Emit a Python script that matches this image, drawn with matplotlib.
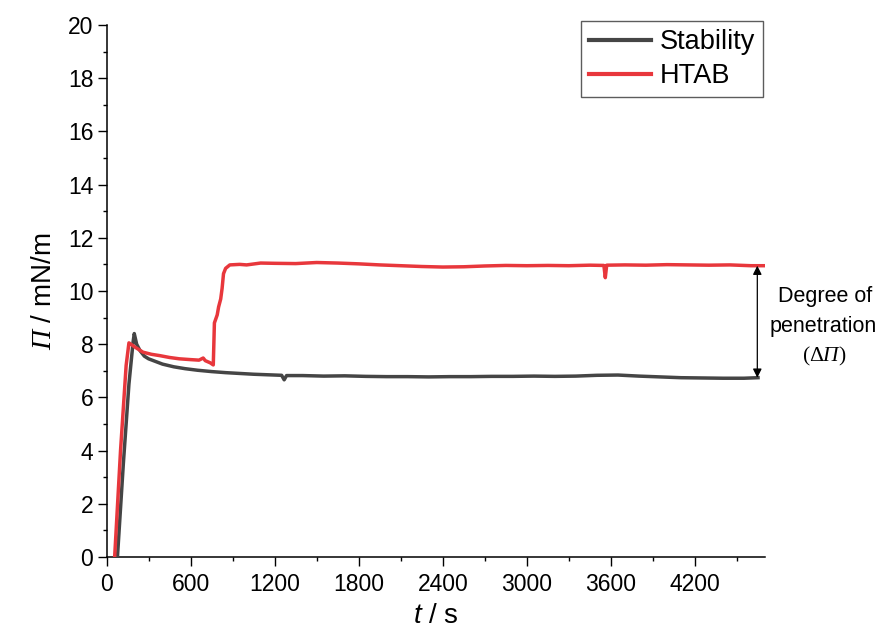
import matplotlib
matplotlib.use("Agg")
import matplotlib.pyplot as plt
from matplotlib.ticker import MultipleLocator

plt.rcParams['font.family'] = ['Liberation Sans', 'DejaVu Sans']
plt.rcParams['mathtext.fontset'] = 'custom'
plt.rcParams['mathtext.rm'] = 'Liberation Sans'
plt.rcParams['mathtext.it'] = 'Liberation Sans:italic'
plt.rcParams['mathtext.bf'] = 'Liberation Serif:italic'
plt.rcParams['mathtext.sf'] = 'Liberation Serif'

# Surface pressure vs time
stab_t = [78, 120, 160, 190, 198, 215, 240, 270, 300, 350, 400, 480, 560, 650,
          750, 850, 950, 1050, 1150, 1250, 1268, 1285, 1400, 1550, 1700, 1850,
          2000, 2150, 2300, 2450, 2600, 2750, 2900, 3050, 3200, 3350, 3500,
          3650, 3800, 3950, 4100, 4250, 4400, 4550, 4650]
stab_pi = [0.0, 3.5, 6.5, 8.1, 8.4, 8.0, 7.75, 7.55, 7.45, 7.35, 7.25, 7.15,
           7.08, 7.02, 6.97, 6.93, 6.9, 6.87, 6.85, 6.83, 6.66, 6.82, 6.82,
           6.8, 6.81, 6.79, 6.78, 6.78, 6.77, 6.78, 6.78, 6.79, 6.79, 6.8,
           6.79, 6.8, 6.83, 6.84, 6.8, 6.77, 6.74, 6.73, 6.72, 6.72, 6.74]

htab_t = [58, 100, 140, 160, 200, 260, 320, 380, 450, 520, 600, 660, 690, 705,
          740, 762, 766, 770, 790, 800, 815, 825, 835, 850, 880, 950, 1000,
          1100, 1200, 1350, 1500, 1650, 1800, 1950, 2100, 2250, 2400, 2550,
          2700, 2850, 3000, 3150, 3300, 3450, 3550, 3560, 3570, 3700, 3850,
          4000, 4150, 4300, 4450, 4600, 4700]
htab_pi = [0.0, 4.0, 7.2, 8.05, 7.9, 7.7, 7.62, 7.57, 7.5, 7.45, 7.42, 7.4,
           7.48, 7.38, 7.3, 7.22, 8.0, 8.8, 9.1, 9.4, 9.7, 10.1, 10.65, 10.85,
           10.98, 11.0, 10.98, 11.05, 11.04, 11.03, 11.07, 11.05, 11.02, 10.98,
           10.95, 10.92, 10.9, 10.91, 10.94, 10.96, 10.95, 10.96, 10.95, 10.97,
           10.96, 10.5, 10.97, 10.98, 10.97, 10.99, 10.98, 10.97, 10.98, 10.95,
           10.95]

x_ticks = [0, 600, 1200, 1800, 2400, 3000, 3600, 4200]
y_ticks = [0, 2, 4, 6, 8, 10, 12, 14, 16, 18, 20]

gray = '#454545'
red = '#e8373c'

fig = plt.figure(figsize=(8.84, 6.37), dpi=100)
ax = fig.add_axes([0.1205, 0.1256, 0.7449, 0.8352])

ax.plot(stab_t, stab_pi, color=gray, lw=2.5, label='Stability', zorder=3)
ax.plot(htab_t, htab_pi, color=red, lw=2.5, label='HTAB', zorder=3)

ax.set_xlim(0, 4700)
ax.set_ylim(0, 20)
ax.set_xticks(x_ticks)
ax.set_yticks(y_ticks)
ax.xaxis.set_minor_locator(MultipleLocator(300))
ax.yaxis.set_minor_locator(MultipleLocator(1))

for s in ['top', 'right']:
    ax.spines[s].set_visible(False)
for s in ['left', 'bottom']:
    ax.spines[s].set_linewidth(1.1)
ax.tick_params(which='major', direction='out', length=6.5, width=1.0,
               labelsize=16.5, pad=3)
ax.tick_params(which='minor', direction='out', length=3.2, width=1.0)
ax.tick_params(axis='x', which='major', pad=5)

ax.set_ylabel(r'$\mathbf{\Pi}$ / mN/m', fontsize=20, labelpad=8)
ax.set_xlabel(r'$t$ / s', fontsize=20, labelpad=5)

leg = ax.legend(loc='upper right', bbox_to_anchor=(763 / 884, 1 - 21 / 637),
                bbox_transform=fig.transFigure, borderaxespad=0,
                fontsize=19.5, frameon=True, fancybox=False,
                handlelength=2.3, handletextpad=0.3, borderpad=0.3,
                labelspacing=0.3)
leg.get_frame().set_edgecolor('#333333')
leg.get_frame().set_linewidth(1.0)
for line in leg.get_lines():
    line.set_linewidth(3.0)

# Double-headed arrow showing the difference between the two plateaus
arrow_t = 4645
ax.annotate('', xy=(arrow_t, htab_pi[-1]), xytext=(arrow_t, stab_pi[-1]),
            arrowprops=dict(arrowstyle='<|-|>', color='black', lw=0.9,
                            mutation_scale=13, shrinkA=0, shrinkB=0),
            zorder=4)

fig.text(0.933, 0.534, 'Degree of', ha='center', va='center', fontsize=15.5)
fig.text(0.931, 0.487, 'penetration', ha='center', va='center', fontsize=15.5)
fig.text(0.932, 0.440, r'$\mathsf{(\Delta}\mathbf{\Pi}\mathsf{)}$',
         ha='center', va='center', fontsize=15.5)

fig.savefig('out.png', dpi=100)
